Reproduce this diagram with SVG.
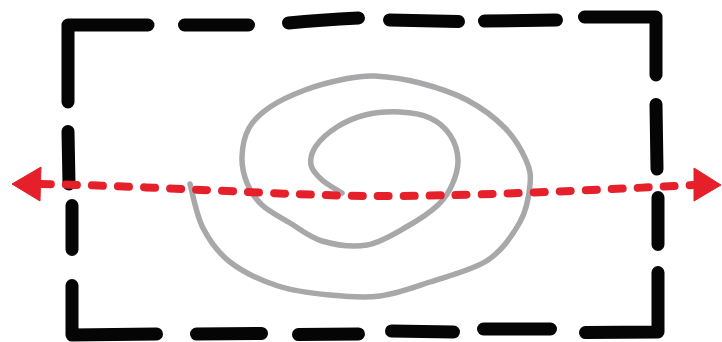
<svg xmlns="http://www.w3.org/2000/svg" width="722" height="342" viewBox="0 0 722 342">
  <style>
    .frame { fill: none; stroke: #050505; stroke-width: 13; stroke-linecap: round; stroke-linejoin: round; }
    .spiral { fill: none; stroke: #a8a8aa; stroke-width: 5.5; stroke-linecap: round; stroke-linejoin: round; }
    .axis { fill: none; stroke: #e5202b; stroke-width: 8; stroke-linecap: round; stroke-dasharray: 11 15; }
    .head { fill: #e5202b; stroke: #e5202b; stroke-width: 1; stroke-linejoin: round; }
  </style>
  <rect width="722" height="342" fill="#ffffff"/>
  <g id="frame">
    <path class="frame" d="M68,102 L68,25 L148,25"/>
    <path class="frame" d="M184.5,25 L248.5,25"/>
    <path class="frame" d="M288.5,23 Q320,20 358.5,18"/>
    <path class="frame" d="M389.5,20 L458.5,21.5"/>
    <path class="frame" d="M484.5,21 L556.5,20"/>
    <path class="frame" d="M584.5,17 L656,17 L656,75"/>
    <path class="frame" d="M656,104.5 L657,169"/>
    <path class="frame" d="M658,197.5 L658,244.5"/>
    <path class="frame" d="M658,272.5 L658,332 L585.5,332.5"/>
    <path class="frame" d="M550.5,329 L483.5,329"/>
    <path class="frame" d="M453.5,332 L391.5,331"/>
    <path class="frame" d="M358.5,334 L298.5,334.5"/>
    <path class="frame" d="M261.5,333.5 L196.5,334"/>
    <path class="frame" d="M156.5,334 L72,335 L72,285.5"/>
    <path class="frame" d="M72,249.5 L72,205.5"/>
    <path class="frame" d="M69,184 L68,131.5"/>
  </g>
  <g id="spiral">
    <path class="spiral" d="M190,184 C192.2,191.3 196.3,215 203,228 C209.7,241 217.5,252.3 230,262 C242.5,271.7 261.3,280.5 278,286 C294.7,291.5 313,293.3 330,295 C347,296.7 363.3,298.2 380,296 C396.7,293.8 412,288 430,282 C448,276 473,270 488,260 C503,250 513,234.5 520,222 C527,209.5 529,195.3 530,185 C531,174.7 530.2,169.5 526,160 C521.8,150.5 514.8,138 505,128 C495.2,118 481.2,107.5 467,100 C452.8,92.5 435.3,87 420,83 C404.7,79 387.5,76.7 375,76 C362.5,75.3 356.7,76.7 345,79 C333.3,81.3 317.5,85.3 305,90 C292.5,94.7 279.3,100.7 270,107 C260.7,113.3 253.7,119.7 249,128 C244.3,136.3 242.3,147.8 242,157 C241.7,166.2 243.7,175 247,183 C250.3,191 254.8,198.3 262,205 C269.2,211.7 280,217 290,223 C300,229 309.2,237.3 322,241 C334.8,244.7 352.7,247.5 367,245 C381.3,242.5 396.2,232.7 408,226 C419.8,219.3 430.7,211.8 438,205 C445.3,198.2 448.7,192.5 452,185 C455.3,177.5 458.3,168.3 458,160 C457.7,151.7 454.7,142 450,135 C445.3,128 438.3,121.8 430,118 C421.7,114.2 410.8,112.5 400,112 C389.2,111.5 375.5,112.5 365,115 C354.5,117.5 345.2,121.8 337,127 C328.8,132.2 320.3,139.7 316,146 C311.7,152.3 310,159.3 311,165 C312,170.7 316.8,175.3 322,180 C327.2,184.7 338.7,190.8 342,193"/>
  </g>
  <g id="connectors">
    <path class="axis" d="M40,184 C150,186 280,195 365,196 C450,197 600,190 694,185"/>
    <path class="head" d="M12,184 L41,167 L40,201 Z"/>
    <path class="head" d="M721,185 L694,168 L694,201 Z"/>
  </g>
</svg>
